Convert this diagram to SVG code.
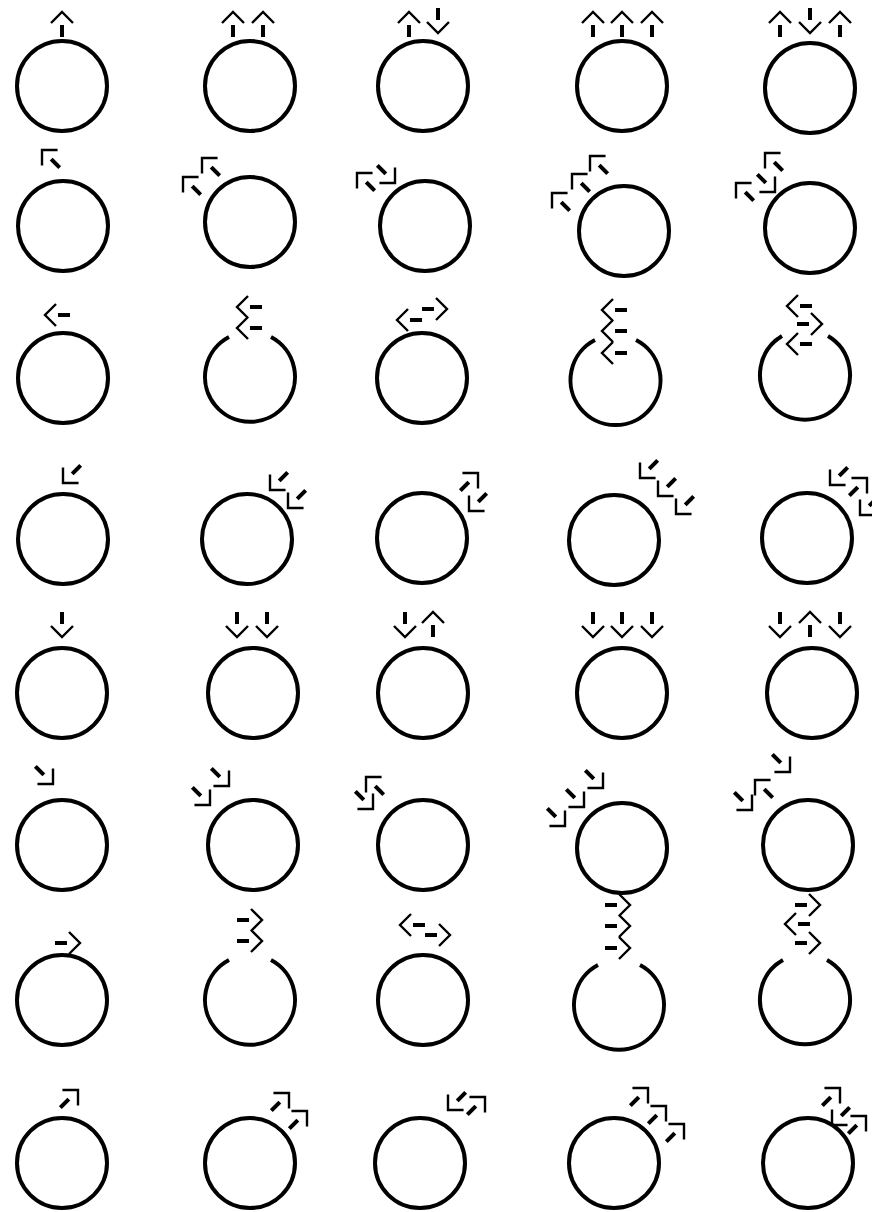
<svg xmlns="http://www.w3.org/2000/svg" xmlns:xlink="http://www.w3.org/1999/xlink" width="872" height="1212" viewBox="0 0 872 1212">
<style>
.c{fill:none;stroke:#000;stroke-width:4}
.h{fill:none;stroke:#000;stroke-width:2.4}
.s{fill:none;stroke:#000;stroke-width:4}
</style>
<defs>
<g id="a"><path class="h" d="M-11,11 L0,0 L11,11"/><path class="s" d="M0,13 V25"/></g>
</defs>
<rect width="872" height="1212" fill="#fff"/>
<!-- Row 1 -->
<g id="r1c1"><circle class="c" cx="62" cy="86" r="45"/><use href="#a" transform="translate(62,12)"/></g>
<g id="r1c2"><circle class="c" cx="250" cy="86" r="45"/><use href="#a" transform="translate(233,12)"/><use href="#a" transform="translate(263,12)"/></g>
<g id="r1c3"><circle class="c" cx="423" cy="86" r="45"/><use href="#a" transform="translate(409,12)"/><use href="#a" transform="translate(438,33) rotate(180)"/></g>
<g id="r1c4"><circle class="c" cx="622" cy="86" r="45"/><use href="#a" transform="translate(593,12)"/><use href="#a" transform="translate(622,12)"/><use href="#a" transform="translate(652,12)"/></g>
<g id="r1c5"><circle class="c" cx="810" cy="88" r="45"/><use href="#a" transform="translate(780,12)"/><use href="#a" transform="translate(810,33) rotate(180)"/><use href="#a" transform="translate(840,12)"/></g>
<!-- Row 2 -->
<g id="r2c1"><circle class="c" cx="63" cy="226" r="45"/><use href="#a" transform="translate(42,150) rotate(-45)"/></g>
<g id="r2c2"><circle class="c" cx="250" cy="222" r="45"/><use href="#a" transform="translate(183,177) rotate(-45)"/><use href="#a" transform="translate(202,158) rotate(-45)"/></g>
<g id="r2c3"><circle class="c" cx="425" cy="226" r="45"/><use href="#a" transform="translate(357,173) rotate(-45)"/><use href="#a" transform="translate(395,183) rotate(135)"/></g>
<g id="r2c4"><circle class="c" cx="624" cy="231" r="45"/><use href="#a" transform="translate(552,193) rotate(-45)"/><use href="#a" transform="translate(572,174) rotate(-45)"/><use href="#a" transform="translate(590,156) rotate(-45)"/></g>
<g id="r2c5"><circle class="c" cx="810" cy="228" r="45"/><use href="#a" transform="translate(736,183) rotate(-45)"/><use href="#a" transform="translate(775,192) rotate(135)"/><use href="#a" transform="translate(765,153) rotate(-45)"/></g>
<!-- Row 3 -->
<g id="r3c1"><circle class="c" cx="63" cy="378" r="45"/><use href="#a" transform="translate(45,315) rotate(-90)"/></g>
<g id="r3c2"><path class="c" d="M229,337 A45,45 0 1 0 271,337"/><use href="#a" transform="translate(237,307) rotate(-90)"/><use href="#a" transform="translate(237,328) rotate(-90)"/></g>
<g id="r3c3"><circle class="c" cx="422" cy="378" r="45"/><use href="#a" transform="translate(397,320) rotate(-90)"/><use href="#a" transform="translate(447,309) rotate(90)"/></g>
<g id="r3c4"><path class="c" d="M595,340 A45,45 0 1 0 636,340"/><use href="#a" transform="translate(602,310) rotate(-90)"/><use href="#a" transform="translate(602,331) rotate(-90)"/><use href="#a" transform="translate(602,353) rotate(-90)"/></g>
<g id="r3c5"><path class="c" d="M782,336 A45,45 0 1 0 828,336"/><use href="#a" transform="translate(787,306) rotate(-90)"/><use href="#a" transform="translate(822,324) rotate(90)"/><use href="#a" transform="translate(787,344) rotate(-90)"/></g>
<!-- Row 4 -->
<g id="r4c1"><circle class="c" cx="63" cy="539" r="45"/><use href="#a" transform="translate(63,483) rotate(-135)"/></g>
<g id="r4c2"><circle class="c" cx="247" cy="539" r="45"/><use href="#a" transform="translate(270,490) rotate(-135)"/><use href="#a" transform="translate(288,508) rotate(-135)"/></g>
<g id="r4c3"><circle class="c" cx="422" cy="538" r="45"/><use href="#a" transform="translate(478,473) rotate(45)"/><use href="#a" transform="translate(469,511) rotate(-135)"/></g>
<g id="r4c4"><circle class="c" cx="614" cy="540" r="45"/><use href="#a" transform="translate(640,478) rotate(-135)"/><use href="#a" transform="translate(658,496) rotate(-135)"/><use href="#a" transform="translate(676,514) rotate(-135)"/></g>
<g id="r4c5"><circle class="c" cx="807" cy="538" r="45"/><use href="#a" transform="translate(830,485) rotate(-135)"/><use href="#a" transform="translate(867,478) rotate(45)"/><use href="#a" transform="translate(860,515) rotate(-135)"/></g>
<!-- Row 5 -->
<g id="r5c1"><circle class="c" cx="62" cy="693" r="45"/><use href="#a" transform="translate(62,637) rotate(180)"/></g>
<g id="r5c2"><circle class="c" cx="253" cy="693" r="45"/><use href="#a" transform="translate(237,637) rotate(180)"/><use href="#a" transform="translate(267,637) rotate(180)"/></g>
<g id="r5c3"><circle class="c" cx="423" cy="693" r="45"/><use href="#a" transform="translate(405,637) rotate(180)"/><use href="#a" transform="translate(433,612)"/></g>
<g id="r5c4"><circle class="c" cx="622" cy="693" r="45"/><use href="#a" transform="translate(593,637) rotate(180)"/><use href="#a" transform="translate(622,637) rotate(180)"/><use href="#a" transform="translate(652,637) rotate(180)"/></g>
<g id="r5c5"><circle class="c" cx="812" cy="693" r="45"/><use href="#a" transform="translate(780,637) rotate(180)"/><use href="#a" transform="translate(810,612)"/><use href="#a" transform="translate(840,637) rotate(180)"/></g>
<!-- Row 6 -->
<g id="r6c1"><circle class="c" cx="62" cy="845" r="45"/><use href="#a" transform="translate(53,784) rotate(135)"/></g>
<g id="r6c2"><circle class="c" cx="253" cy="845" r="45"/><use href="#a" transform="translate(210,805) rotate(135)"/><use href="#a" transform="translate(229,786) rotate(135)"/></g>
<g id="r6c3"><circle class="c" cx="423" cy="845" r="45"/><use href="#a" transform="translate(373,809) rotate(135)"/><use href="#a" transform="translate(366,777) rotate(-45)"/></g>
<g id="r6c4"><circle class="c" cx="622" cy="848" r="45"/><use href="#a" transform="translate(565,826) rotate(135)"/><use href="#a" transform="translate(584,807) rotate(135)"/><use href="#a" transform="translate(603,788) rotate(135)"/></g>
<g id="r6c5"><circle class="c" cx="808" cy="845" r="45"/><use href="#a" transform="translate(752,810) rotate(135)"/><use href="#a" transform="translate(755,780) rotate(-45)"/><use href="#a" transform="translate(790,772) rotate(135)"/></g>
<!-- Row 7 -->
<g id="r7c1"><circle class="c" cx="62" cy="1000" r="45"/><use href="#a" transform="translate(80,943) rotate(90)"/></g>
<g id="r7c2"><path class="c" d="M229,960 A45,45 0 1 0 271,960"/><use href="#a" transform="translate(262,920) rotate(90)"/><use href="#a" transform="translate(262,941) rotate(90)"/></g>
<g id="r7c3"><circle class="c" cx="423" cy="1000" r="45"/><use href="#a" transform="translate(400,925) rotate(-90)"/><use href="#a" transform="translate(450,935) rotate(90)"/></g>
<g id="r7c4"><path class="c" d="M598,965 A45,45 0 1 0 640,965"/><use href="#a" transform="translate(630,905) rotate(90)"/><use href="#a" transform="translate(630,926) rotate(90)"/><use href="#a" transform="translate(630,948) rotate(90)"/></g>
<g id="r7c5"><path class="c" d="M783,960 A45,45 0 1 0 827,960"/><use href="#a" transform="translate(820,905) rotate(90)"/><use href="#a" transform="translate(785,924) rotate(-90)"/><use href="#a" transform="translate(820,943) rotate(90)"/></g>
<!-- Row 8 -->
<g id="r8c1"><circle class="c" cx="62" cy="1163" r="45"/><use href="#a" transform="translate(78,1090) rotate(45)"/></g>
<g id="r8c2"><circle class="c" cx="250" cy="1163" r="45"/><use href="#a" transform="translate(289,1093) rotate(45)"/><use href="#a" transform="translate(307,1111) rotate(45)"/></g>
<g id="r8c3"><circle class="c" cx="420" cy="1163" r="45"/><use href="#a" transform="translate(448,1110) rotate(-135)"/><use href="#a" transform="translate(485,1097) rotate(45)"/></g>
<g id="r8c4"><circle class="c" cx="614" cy="1163" r="45"/><use href="#a" transform="translate(648,1088) rotate(45)"/><use href="#a" transform="translate(666,1106) rotate(45)"/><use href="#a" transform="translate(684,1124) rotate(45)"/></g>
<g id="r8c5"><circle class="c" cx="808" cy="1163" r="45"/><use href="#a" transform="translate(840,1088) rotate(45)"/><use href="#a" transform="translate(832,1125) rotate(-135)"/><use href="#a" transform="translate(866,1116) rotate(45)"/></g>
</svg>
